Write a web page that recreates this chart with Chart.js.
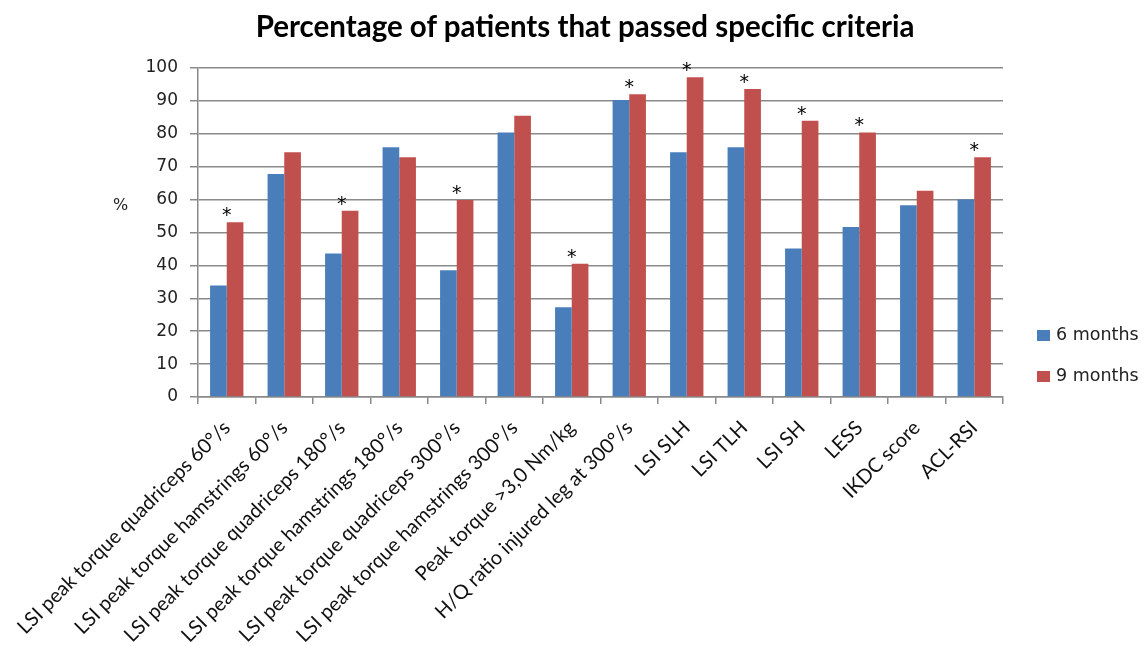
<!DOCTYPE html>
<html lang="en">
<head>
  <meta charset="UTF-8">
  <title>Percentage of patients that passed specific criteria</title>
  <script src="https://cdn.jsdelivr.net/npm/chart.js"></script>
  <style>
    body { margin: 0; background: #fff; }
    .wrap { position: relative; width: 1146px; height: 646px; }
    .title { position: absolute; left: 385px; width: 400px; top: 8px; text-align: center; white-space: nowrap;
             font: bold 29.5px Lato, sans-serif; color: #000; display: flex; justify-content: center; }
    .pct { position: absolute; left: 113px; top: 195px; font: 16px 'DejaVu Sans', sans-serif; color: #222; }
    .legend { position: absolute; left: 1037px; top: 324px; font: 17.5px 'DejaVu Sans', sans-serif; color: #222; }
    .legend div { height: 41px; display: flex; align-items: flex-start; }
    .legend span { display: inline-block; width: 13px; height: 11px; margin: 6px 6px 0 0; }
  </style>
</head>
<body>
<div class="wrap">
  <canvas id="criteriaChart"></canvas>
  <div class="title">Percentage of patients that passed specific criteria</div>
  <div class="pct">%</div>
  <div class="legend">
    <div><span style="background:#4a7ebb"></span>6 months</div>
    <div><span style="background:#c0504d"></span>9 months</div>
  </div>
</div>

<script>
const criteria = [
  'LSI peak torque quadriceps 60°/s',
  'LSI peak torque hamstrings 60°/s',
  'LSI peak torque quadriceps 180°/s',
  'LSI peak torque hamstrings 180°/s',
  'LSI peak torque quadriceps 300°/s',
  'LSI peak torque hamstrings 300°/s',
  'Peak torque >3,0 Nm/kg',
  'H/Q ratio injured leg at 300°/s',
  'LSI SLH',
  'LSI TLH',
  'LSI SH',
  'LESS',
  'IKDC score',
  'ACL-RSI'
];
const sixMonths  = [33.9, 67.8, 43.6, 75.9, 38.5, 80.4, 27.3, 90.3, 74.4, 75.9, 45.1, 51.7, 58.3, 60.0];
const nineMonths = [53.1, 74.4, 56.6, 72.9, 59.9, 85.5, 40.5, 92.0, 97.2, 93.6, 84.0, 80.4, 62.7, 72.9];
// * = significant difference between 6 and 9 months
const significant = [true, false, true, false, true, false, true, true, true, true, true, true, false, true];
const yTicks = [0, 10, 20, 30, 40, 50, 60, 70, 80, 90, 100];

const gridColor = '#8a8a8a';

// draws the asterisks above the taller bar of each marked category
const starPlugin = {
  id: 'stars',
  afterDatasetsDraw(chart) {
    const ctx = chart.ctx;
    const m0 = chart.getDatasetMeta(0), m1 = chart.getDatasetMeta(1);
    ctx.save();
    ctx.font = '19px "DejaVu Sans"';
    ctx.fillStyle = '#000';
    ctx.textAlign = 'center';
    ctx.textBaseline = 'middle';
    significant.forEach((s, i) => {
      if (!s) return;
      const b0 = m0.data[i], b1 = m1.data[i];
      const x = (b0.x + b1.x) / 2;
      const y = Math.min(b0.y, b1.y) - 6;
      ctx.fillText('*', x, y);
    });
    ctx.restore();
  }
};

new Chart(document.getElementById('criteriaChart'), {
  type: 'bar',
  data: {
    labels: criteria,
    datasets: [
      { label: '6 months', backgroundColor: '#4a7ebb', data: sixMonths },
      { label: '9 months', backgroundColor: '#c0504d', data: nineMonths }
    ]
  },
  options: {
    responsive: true,
    maintainAspectRatio: false,
    animation: false,
    categoryPercentage: 0.58,
    barPercentage: 1.0,
    layout: { padding: { left: 0, right: 143, top: 68, bottom: 0 } },
    plugins: {
      legend: { display: false },
      tooltip: { enabled: false }
    },
    scales: {
      x: {
        afterFit(scale) { scale.height = 249; },
        grid: { drawOnChartArea: false, drawTicks: true, tickLength: 7, color: gridColor, lineWidth: 1.5 },
        border: { color: gridColor, width: 1.5 },
        ticks: {
          minRotation: 45, maxRotation: 45, autoSkip: false,
          color: '#111', padding: 12,
          font: { family: 'Lato', size: 20 }
        }
      },
      y: {
        min: 0, max: 100,
        afterFit(scale) { scale.width = 198; },
        afterBuildTicks(scale) { scale.ticks = yTicks.map(v => ({ value: v })); },
        grid: { color: gridColor, lineWidth: 1.5, tickLength: 8 },
        border: { color: gridColor, width: 1.5 },
        ticks: { color: '#222', padding: 12, font: { family: 'DejaVu Sans', size: 17 } }
      }
    }
  },
  plugins: [starPlugin]
});
</script>
</body>
</html>
